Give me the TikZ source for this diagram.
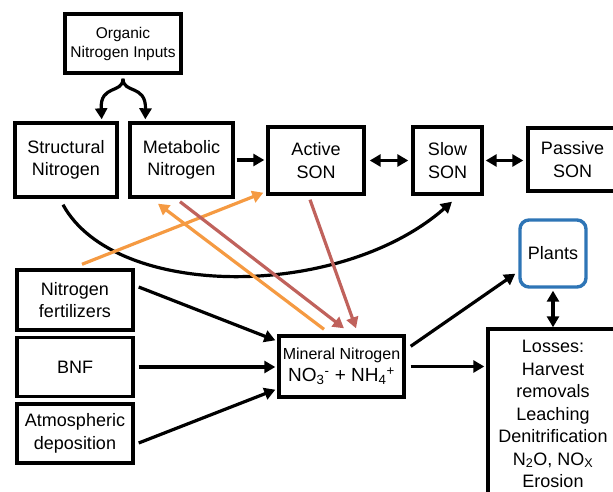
\documentclass[tikz,border=0pt]{standalone}
\usepackage{fontspec}
\setmainfont{Liberation Sans}
\usetikzlibrary{arrows.meta,calc}
\definecolor{orng}{HTML}{F59A42}
\definecolor{rdd}{HTML}{C0625C}
\definecolor{blu}{HTML}{2E75B6}
\tikzset{
  box/.style={draw=black, line width=3.4pt, align=center, inner sep=0pt, font=\fontsize{18}{22.5}\selectfont},
  arr/.style={line width=3.2pt, -{Triangle[length=11pt,width=12pt]}},
  darr/.style={line width=3.2pt, {Triangle[length=11pt,width=12pt]}-{Triangle[length=11pt,width=12pt]}},
  oarr/.style={draw=orng, line width=3.2pt, -{Triangle[length=11pt,width=12pt]}},
  rarr/.style={draw=rdd, line width=3.2pt, -{Triangle[length=11pt,width=12pt]}},
}
\begin{document}
\begin{tikzpicture}[x=1pt,y=-1pt]
\useasboundingbox (0,0) rectangle (613,492);
% nodes
\node[box, minimum width=116pt, minimum height=59pt, font=\fontsize{15.5}{19}\selectfont] (org) at (123,43.5) {Organic\\Nitrogen Inputs};
\node[box, minimum width=102pt, minimum height=74pt] (struct) at (66,160) {Structural\\Nitrogen};
\node[box, minimum width=103pt, minimum height=74pt] (metab) at (181.5,160) {Metabolic\\Nitrogen};
\node[box, minimum width=96pt, minimum height=67pt] (active) at (316,160.5) {Active\\SON};
\node[box, minimum width=69pt, minimum height=67pt] (slow) at (447.5,160.5) {Slow\\SON};
\node[box, minimum width=89pt, minimum height=63pt] (passive) at (572.5,159.5) {Passive\\SON};
\node[box, draw=blu, rounded corners=9pt, minimum width=66pt, minimum height=67pt] (plants) at (553,253.5) {Plants};
\node[box, minimum width=116pt, minimum height=60pt] (fert) at (75,300) {Nitrogen\\fertilizers};
\node[box, minimum width=116pt, minimum height=59pt] (bnf) at (75,367) {BNF};
\node[box, minimum width=116pt, minimum height=59pt] (atm) at (75,433.5) {Atmospheric\\deposition};
\node[box, minimum width=125pt, minimum height=61pt] (mineral) at (341.5,366.5) {{\fontsize{16}{21}\selectfont Mineral Nitrogen}\\[-1pt]{\fontsize{19}{21}\selectfont NO\textsubscript{3}\textsuperscript{-} + NH\textsubscript{4}\textsuperscript{+}}};
\node[box, minimum width=130pt, minimum height=170pt] (losses) at (553,414) {Losses:\\Harvest\\removals\\Leaching\\Denitrification\\N\textsubscript{2}O, NO\textsubscript{X}\\Erosion};
% fork
\draw[arr] ([yshift=-4pt]org.south) .. controls (123,94) and (100,84) .. ([xshift=-17pt,yshift=2pt]struct.north east);
\draw[arr] ([yshift=-4pt]org.south) .. controls (123,94) and (146,84) .. ([xshift=17pt,yshift=2pt]metab.north west);
% top row
\draw[arr, shorten <=2pt, shorten >=2pt] (metab.east) -- (active.west |- metab.east);
\draw[darr, shorten <=4pt, shorten >=3pt] (active.east) -- (slow.west);
\draw[darr, shorten <=2pt, shorten >=3pt] (slow.east) -- (slow.east -| passive.west);
% long curve
\draw[arr] ([xshift=-3pt,yshift=-6pt]struct.south) .. controls (115,300) and (340,300) .. ([xshift=4.5pt,yshift=-6pt]slow.south);
% inputs to mineral
\draw[arr] ([xshift=4pt,yshift=13pt]fert.east) -- ([xshift=-2pt,yshift=-6pt]mineral.north west);
\draw[arr, shorten <=4pt, shorten >=2pt] (bnf.east) -- (bnf.east -| mineral.west);
\draw[arr] ([xshift=4pt,yshift=-9.5pt]atm.east) -- ([xshift=-2pt,yshift=9pt]mineral.south west);
% outputs
\draw[arr] ([xshift=5pt,yshift=-12pt]mineral.north east) -- ([xshift=-3pt,yshift=15pt]plants.south west);
\draw[arr, shorten <=5pt, shorten >=2pt] (mineral.east) -- (mineral.east -| losses.west);
\draw[darr, shorten <=2pt, shorten >=0pt] (plants.south) -- (losses.north);
% coloured
\draw[oarr] ([xshift=7pt,yshift=4pt]fert.north) -- ([xshift=-3pt,yshift=3pt]active.south west);
\draw[oarr] ([xshift=-17.5pt,yshift=5pt]mineral.north) -- ([xshift=-23.5pt,yshift=-5pt]metab.south);
\draw[rarr] ([xshift=-1.5pt,yshift=-3pt]metab.south) -- ([xshift=2.5pt,yshift=6pt]mineral.north);
\draw[rarr] ([xshift=-6pt,yshift=-4pt]active.south) -- ([xshift=14.5pt,yshift=6pt]mineral.north);
\end{tikzpicture}
\end{document}
